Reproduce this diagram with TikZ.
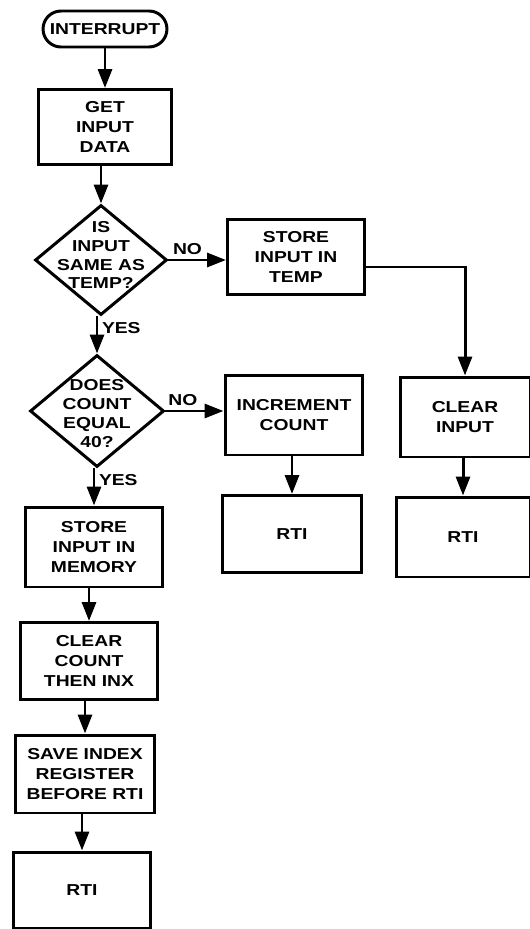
\documentclass[tikz,border=0pt]{standalone}
\usepackage{fontspec}
\newfontfamily\flowfont{Liberation Sans}[FakeStretch=1.22]
\usepackage{tikz}
\usetikzlibrary{arrows.meta}
\usetikzlibrary{shapes.misc, shapes.geometric}
\tikzset{
    txt/.style={font=\flowfont\bfseries\fontsize{9}{11.5}\selectfont, align=center},
    box/.style={txt, draw, line width=1.7pt, inner sep=2pt},
    term/.style={box, rounded rectangle},
    decision/.style={draw, diamond, line width=1.7pt, inner sep=0pt},
    dtext/.style={txt, font=\flowfont\bfseries\fontsize{9}{10.8}\selectfont},
    flow/.style={line width=1.7pt, -{Triangle[length=3.8mm, width=2.8mm]}}
}

\begin{document}
\begin{tikzpicture}[x=0.02cm, y=-0.02cm]
    \useasboundingbox (0,0) rectangle (530,929);
    % main column
    \node[term, minimum width=2.62cm, minimum height=0.72cm] (start) at (105,29) {INTERRUPT};
    \node[box, minimum width=2.68cm, minimum height=1.5cm] (getin) at (105,127) {GET\\INPUT\\DATA};
    \node[decision, minimum width=2.64cm, minimum height=2.2cm,
          label={[dtext, yshift=0.1cm]center:{IS\\INPUT\\SAME AS\\TEMP?}}] (same) at (101,260) {};
    \node[decision, minimum width=2.68cm, minimum height=2.24cm,
          label={[dtext, yshift=-0.06cm]center:{DOES\\COUNT\\EQUAL\\40?}}] (count) at (97,411) {};
    \node[box, minimum width=2.74cm, minimum height=1.6cm] (mem) at (94,547) {STORE\\INPUT IN\\MEMORY};
    \node[box, minimum width=2.76cm, minimum height=1.54cm] (clrcnt) at (89,661) {CLEAR\\COUNT\\THEN INX};
    \node[box, minimum width=2.8cm, minimum height=1.56cm] (save) at (85,774) {SAVE INDEX\\REGISTER\\BEFORE RTI};
    \node[box, minimum width=2.74cm, minimum height=1.52cm] (rtia) at (82,890) {RTI};
    % branches
    \node[box, minimum width=2.74cm, minimum height=1.5cm] (temp) at (296,257) {STORE\\INPUT IN\\TEMP};
    \node[box, minimum width=2.76cm, minimum height=1.6cm] (incr) at (294,415) {INCREMENT\\COUNT};
    \node[box, minimum width=2.8cm, minimum height=1.54cm] (rtib) at (292,534) {RTI};
    \node[box, minimum width=2.6cm, minimum height=1.6cm] (clrin) at (465,417) {CLEAR\\INPUT};
    \node[box, minimum width=2.68cm, minimum height=1.6cm] (rtic) at (463,537) {RTI};

    \draw[flow] (getin.south |- start.south) -- (getin.north);
    \draw[flow] (same.north |- getin.south) -- (same.north);
    \draw[flow] (count.north |- same.south) -- node[txt, right, pos=0.3, inner sep=2pt] {YES} (count.north);
    \draw[flow] (mem.north |- count.south) -- node[txt, right, pos=0.3, inner sep=2pt] {YES} (mem.north);
    \draw[flow] (clrcnt.north |- mem.south) -- (clrcnt.north);
    \draw[flow] (save.north |- clrcnt.south) -- (save.north);
    \draw[flow] (rtia.north |- save.south) -- (rtia.north);
    \draw[flow] (same.east) -- node[txt, above, pos=0.33, inner sep=2pt] {NO} (same.east -| temp.west);
    \draw[flow] (count.east) -- node[txt, above, pos=0.3, inner sep=2pt] {NO} (count.east -| incr.west);
    \draw[flow] ([yshift=-0.2cm]temp.east) -| (clrin.north);
    \draw[flow] (rtib.north |- incr.south) -- (rtib.north);
    \draw[flow] (rtic.north |- clrin.south) -- (rtic.north);
\end{tikzpicture}
\end{document}
